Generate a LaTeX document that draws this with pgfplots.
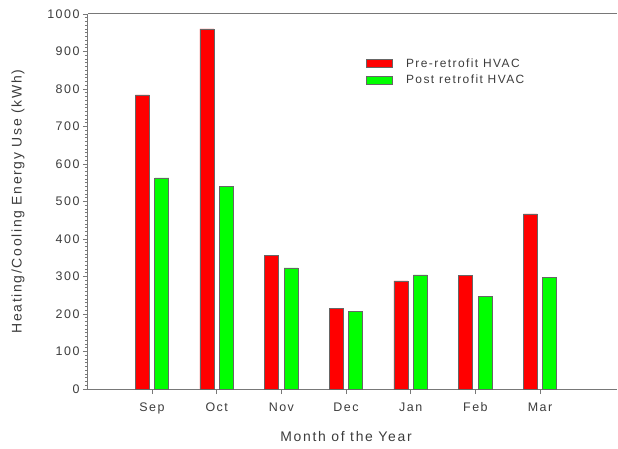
\documentclass[border=0pt]{standalone}
\usepackage{pgfplots}
\pgfplotsset{compat=1.18}
\usepackage{fontspec}
\setmainfont[LetterSpace=12]{Liberation Sans}
\definecolor{barred}{RGB}{255,0,0}
\definecolor{bargreen}{RGB}{0,255,0}
\definecolor{axgray}{RGB}{120,120,120}
\definecolor{txt}{RGB}{60,60,60}
\begin{document}
\begin{tikzpicture}
\begin{axis}[
  name=ax,
  scale only axis,
  width=529bp, height=375bp,
  xmin=-0.99, xmax=7.19,
  ymin=0, ymax=1000,
  axis x line=box, axis y line=left,
  xtick pos=bottom,
  axis line style={-, axgray, line width=1bp},
  xtick={0,1,2,3,4,5,6},
  xticklabels={Sep,Oct,Nov,Dec,Jan,Feb,Mar},
  ytick={0,100,...,1000},
  minor y tick num=9,
  tick align=outside,
  major tick length=5bp,
  minor tick length=3bp,
  tick style={axgray, line width=0.8bp},
  ticklabel style={font=\fontsize{12.5}{14}\selectfont, text=txt},
  xticklabel style={yshift=-5bp},
  /pgf/number format/assume math mode=true,
  /pgf/number format/1000 sep={},
  xlabel={Month of the Year},
  ylabel={Heating/Cooling Energy Use (kWh)},
  label style={font=\fontsize{14}{16}\selectfont, text=txt},
  xlabel style={at={(axis cs:3,0)}, anchor=center, yshift=-48bp},
  ylabel style={at={(axis description cs:-0.1323,0.5)}, anchor=center},
  legend style={draw=none, fill=none, at={(0.519,0.892)}, anchor=north west,
    font=\fontsize{12}{14}\selectfont, text=txt, row sep=2bp},
  legend cell align=left,
  legend image code/.code={\path[draw=none, fill=none] (0bp,0bp) -- (38bp,0bp);
    \draw[#1, draw=black!60] (0bp,-4bp) rectangle (26bp,4bp);},
  bar width=14bp,
]
\addplot[ybar, bar shift=-9.75bp, fill=barred, draw=black!60, line width=0.6bp] coordinates {
 (0,784) (1,960) (2,357) (3,215) (4,288) (5,303) (6,467)};
\addlegendentry{Pre-retrofit HVAC}
\addplot[ybar, bar shift=9.75bp, fill=bargreen, draw=black!60, line width=0.6bp] coordinates {
 (0,563) (1,540) (2,323) (3,208) (4,304) (5,246) (6,297)};
\addlegendentry{Post retrofit HVAC}
\end{axis}
\pgfresetboundingbox
\path ([xshift=-88bp,yshift=-60bp]ax.south west) rectangle ([xshift=1bp,yshift=14bp]ax.north east);
\end{tikzpicture}
\end{document}
